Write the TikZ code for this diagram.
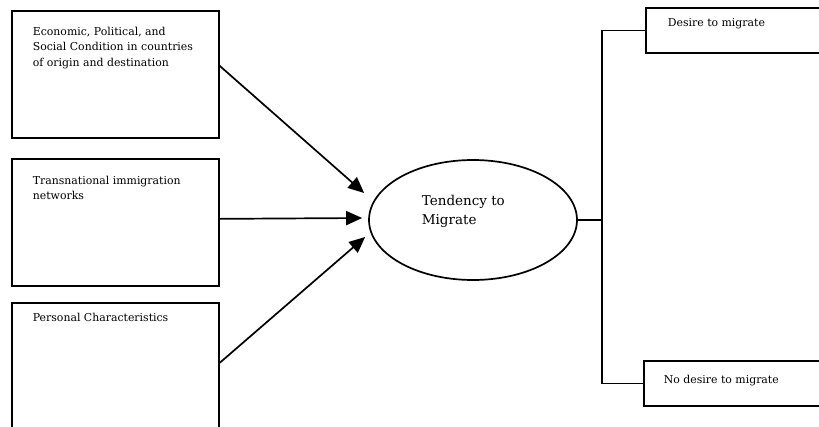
\documentclass[tikz,border=0pt]{standalone}
\usepackage{fontspec}
\setmainfont{DejaVu Serif}
\usetikzlibrary{arrows.meta, positioning, shapes.geometric}

\begin{document}
\begin{tikzpicture}[x=1pt, y=-1pt, line width=1.7pt, >={Triangle[length=16pt, width=14pt]},
    box/.style={draw, rectangle, anchor=north west, inner sep=0pt},
    txt/.style={anchor=north west, inner sep=0pt, align=left, font=\fontsize{10.9}{15.5}\selectfont}]
    \useasboundingbox (0, 0) rectangle (819, 426);
    \clip (0, 0) rectangle (819, 426);
    %% factor boxes
    \node[box, minimum width=207pt, minimum height=127pt] (econ) at (11, 10) {};
    \node[box, minimum width=207pt, minimum height=127pt] (trans) at (11, 158) {};
    \node[box, minimum width=207pt, minimum height=138pt] (pers) at (11, 302) {};
    \node[txt, below right=16pt and 21pt of econ.north west] (econtxt) {Economic, Political, and\\Social Condition in countries\\of origin and destination};
    \node[txt, below right=17pt and 21pt of trans.north west] (transtxt) {Transnational immigration\\networks};
    \node[txt, below right=10pt and 21pt of pers.north west] (perstxt) {Personal Characteristics};
    %% tendency
    \node[draw, ellipse, minimum width=208pt, minimum height=120pt, inner sep=0pt] (tend) at (473, 220) {};
    \node[anchor=north west, inner sep=0pt, align=left, font=\fontsize{13.5}{19}\selectfont]
        (tendtxt) at ([xshift=-52pt, yshift=26pt]tend.center) {Tendency to\\Migrate};
    \draw[->] ([yshift=8.5pt]econ.east) -- ([xshift=-4pt, yshift=27pt]tend.west);
    \draw[->] ([yshift=3.5pt]trans.east) -- ([xshift=-6pt, yshift=2pt]tend.west);
    \draw[->] ([yshift=9pt]pers.east) -- ([xshift=-3pt, yshift=-17pt]tend.west);
    %% outcomes
    \node[box, minimum width=185pt, minimum height=45pt] (desire) at (645, 7) {};
    \node[box, minimum width=187pt, minimum height=45pt] (nodesire) at (643, 360) {};
    \node[txt, below right=11pt and 22pt of desire.north west] (desiretxt) {Desire to migrate};
    \node[txt, below right=14pt and 20pt of nodesire.north west] (nodesiretxt) {No desire to migrate};
    \coordinate (fork) at (602, 220);
    \draw (tend.east) -- (fork);
    \draw (desire.west) -| (fork) |- (nodesire.west);
\end{tikzpicture}
\end{document}
